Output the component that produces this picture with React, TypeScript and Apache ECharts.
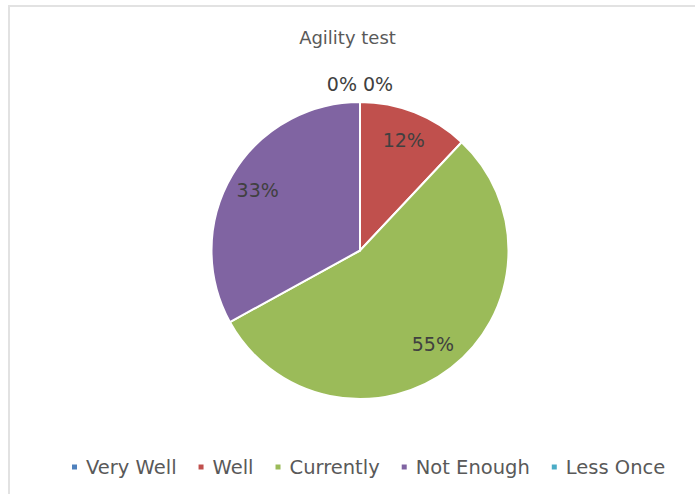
import React, { useEffect, useRef } from "react";
import * as echarts from "echarts";

const title = "Agility test";
const categories = ["Very Well", "Well", "Currently", "Not Enough", "Less Once"];
const values = [0, 12, 55, 33, 0];
const colors = ["#4F81BD", "#C0504D", "#9BBB59", "#8064A2", "#4BACC6"];

const FONT = "DejaVu Sans";

export default function App() {
  const ref = useRef<HTMLDivElement>(null);
  useEffect(() => {
    if (!ref.current) return;
    const chart = echarts.init(ref.current, null, { renderer: "svg" });
    const fmt = (p: any) => `${Math.round(p.percent)}%`;
    const cx = 360;
    const cy = 250.5;
    const r = 148.5;
    const mainData = categories.map((name, i) => ({
      name,
      value: values[i],
      itemStyle: { color: colors[i] },
    }));
    const labelData = categories.map((name, i) => {
      const zero = values[i] === 0;
      return {
        name,
        value: values[i],
        itemStyle: { color: "rgba(0,0,0,0)", borderWidth: 0 },
        label: zero
          ? {
              show: true,
              position: "outside",
              distanceToLabelLine: 3,
            }
          : { show: true, position: "inside" },
        labelLine: { show: false, length: 18, length2: 0 },
      };
    });
    chart.setOption({
      animation: false,
      backgroundColor: "#ffffff",
      title: {
        text: title,
        left: "center",
        top: 23,
        textStyle: {
          fontFamily: FONT,
          fontSize: 18,
          fontWeight: "normal",
          color: "#595959",
        },
      },
      legend: {
        data: categories,
        left: 65,
        top: 452,
        icon: "rect",
        itemWidth: 7,
        itemHeight: 7,
        itemGap: 20,
        textStyle: {
          fontFamily: FONT,
          fontSize: 19.5,
          color: "#595959",
          padding: [0, 0, 0, 3],
        },
      },
      graphic: [
        {
          type: "polyline",
          silent: true,
          shape: { points: [[9, 494], [9, 6], [695, 6]] },
          style: { stroke: "#e2e2e2", lineWidth: 2, fill: "none" },
        },
      ],
      series: [
        {
          type: "pie",
          center: [cx, cy],
          radius: [0, r],
          startAngle: 90,
          clockwise: true,
          avoidLabelOverlap: false,
          label: { show: false },
          labelLine: { show: false },
          itemStyle: { borderColor: "#ffffff", borderWidth: 2 },
          emphasis: { disabled: true },
          data: mainData,
        },
        {
          type: "pie",
          silent: true,
          center: [cx, cy],
          radius: [r * 0.56, r],
          startAngle: 90,
          clockwise: true,
          avoidLabelOverlap: false,
          legendHoverLink: false,
          label: {
            formatter: fmt,
            fontFamily: FONT,
            fontSize: 19,
            color: "#404040",
          },
          emphasis: { disabled: true },
          data: labelData,
        },
      ],
    });
    return () => chart.dispose();
  }, []);
  return (
    <div
      ref={ref}
      style={{ position: "fixed", left: 0, top: 0, width: 695, height: 494 }}
    />
  );
}
